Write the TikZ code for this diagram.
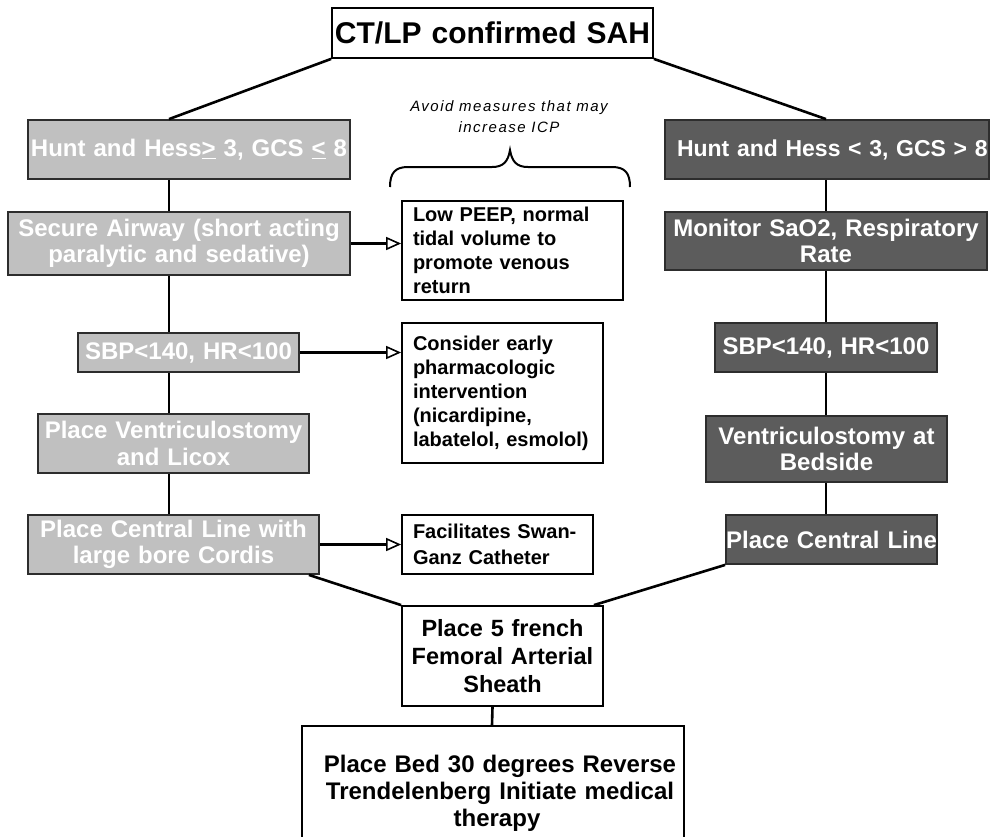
\documentclass[tikz,border=0pt]{standalone}
\usepackage{fontspec}
\setmainfont{Liberation Sans}
\usetikzlibrary{arrows.meta}
\definecolor{lightbox}{RGB}{192,192,192}
\definecolor{darkbox}{RGB}{92,92,92}
\definecolor{edge}{RGB}{45,45,45}
\begin{document}
\begin{tikzpicture}[x=1pt,y=-1pt,
  base/.style={draw=edge,line width=1.8pt,inner xsep=0pt,inner ysep=0pt,align=center},
  lightstep/.style={base,fill=lightbox,text=white,font=\fontsize{24}{26.5}\selectfont\bfseries},
  darkstep/.style={base,fill=darkbox,text=white,font=\fontsize{24}{26.5}\selectfont\bfseries},
  notebox/.style={base,draw=black,fill=white,text=black,align=left,inner xsep=11pt,
    font=\fontsize{20}{24}\selectfont\bfseries},
  whitestep/.style={base,draw=black,fill=white,text=black,font=\fontsize{23.5}{28}\selectfont\bfseries},
  link/.style={line width=2.6pt,black},
  arr/.style={link,-{Triangle[open,length=15pt,width=13pt,line width=1.6pt]}}
]
\useasboundingbox (0,0) rectangle (990,836);
\clip (0,0) rectangle (990,836);

% connector columns
\coordinate (colL) at (169,0);
\coordinate (colR) at (826,0);

% title
\node[whitestep,font=\fontsize{30}{34}\selectfont\bfseries,text width=321pt,minimum height=50pt]
  (top) at (492.5,33) {CT/LP confirmed SAH};

% left branch
\node[lightstep,text width=322pt,minimum height=59pt] (hl) at (189,149.5)
  {Hunt and Hess\underline{>} 3, GCS \underline{<} 8};
\node[lightstep,text width=342pt,minimum height=63pt] (sa) at (179,243.5)
  {Secure Airway (short acting\\paralytic and sedative)};
\node[lightstep,text width=221pt,minimum height=39pt] (sbl) at (188.5,352.5)
  {SBP<140, HR<100};
\node[lightstep,text width=271pt,minimum height=59pt] (pvl) at (173.5,443.5)
  {Place Ventriculostomy\\and Licox};
\node[lightstep,text width=291pt,minimum height=59pt] (pcl) at (173.5,544.5)
  {Place Central Line with\\large bore Cordis};

% side notes
\node[notebox,text width=199pt,minimum height=99pt] (peep) at (512.5,250.5)
  {Low PEEP, normal\\tidal volume to\\promote venous\\return};
\node[notebox,text width=179pt,minimum height=140pt] (cons) at (502.5,393)
  {Consider early\\pharmacologic\\intervention\\(nicardipine,\\labatelol, esmolol)};
\node[notebox,text width=169pt,minimum height=59pt,font=\fontsize{20}{26}\selectfont\bfseries]
  (fac) at (497.5,544.5) {Facilitates Swan-\\Ganz Catheter};

% note above the airway measures
\node[font=\fontsize{15}{21}\selectfont\itshape\addfontfeature{LetterSpace=10},align=center,
  inner sep=0pt] (avoid) at (509,117) {Avoid measures that may\\increase ICP};
\draw[line width=2pt] (390,187) .. controls (390,173) and (395,167) .. (408,167)
  -- (492,167) .. controls (503,167) and (508,162) .. (510,150)
  .. controls (512,162) and (517,167) .. (528,167)
  -- (612,167) .. controls (625,167) and (630,173) .. (630,187);

% right branch
\node[darkstep,font=\fontsize{23}{26.5}\selectfont\bfseries,text width=300pt,inner xsep=12pt,
  minimum height=59pt,align=left] (hr) at (827,149.5)
  {\mbox{Hunt and Hess < 3, GCS > 8}};
\node[darkstep,text width=322pt,minimum height=58pt] (mon) at (826,241)
  {Monitor SaO2, Respiratory\\Rate};
\node[darkstep,text width=222pt,minimum height=49pt] (sbr) at (826,347.5)
  {SBP<140, HR<100};
\node[darkstep,text width=241pt,minimum height=66pt] (vr) at (826.5,449)
  {Ventriculostomy at\\Bedside};
\node[darkstep,text width=211pt,minimum height=49pt] (pcr) at (831.5,539.5)
  {\mbox{Place Central Line}};

% merged steps
\node[whitestep,text width=201pt,minimum height=100pt] (fem) at (502.5,656)
  {Place 5 french\\Femoral Arterial\\Sheath};
\node[whitestep,font=\fontsize{24}{27}\selectfont\bfseries,text width=382pt,minimum height=134pt]
  (bed) at (493,793)
  {\hspace*{14pt}Place Bed 30 degrees Reverse\\\hspace*{14pt}Trendelenberg Initiate medical\\\hspace*{8pt}therapy};

% connectors
\draw[link] (top.south west) -- (hl.north -| colL);
\draw[link] (top.south east) -- (hr.north -| colR);
\draw[link] (hl.south -| colL) -- (sa.north -| colL);
\draw[link] (sa.south -| colL) -- (sbl.north -| colL);
\draw[link] (sbl.south -| colL) -- (pvl.north -| colL);
\draw[link] (pvl.south -| colL) -- (pcl.north -| colL);
\draw[link] (hr.south -| colR) -- (mon.north -| colR);
\draw[link] (mon.south -| colR) -- (sbr.north -| colR);
\draw[link] (sbr.south -| colR) -- (vr.north -| colR);
\draw[link] (vr.south -| colR) -- (pcr.north -| colR);
\draw[arr] (sa.east) -- (sa.east -| peep.west);
\draw[arr] (sbl.east) -- (sbl.east -| cons.west);
\draw[arr] (pcl.east) -- (pcl.east -| fac.west);
\draw[link] ([xshift=-11pt]pcl.south east) -- (fem.north west);
\draw[link] (pcr.south west) -- ([xshift=-10pt]fem.north east);
\draw[link] ([xshift=-10pt]fem.south) -- ([xshift=-1pt]bed.north);
\end{tikzpicture}
\end{document}
